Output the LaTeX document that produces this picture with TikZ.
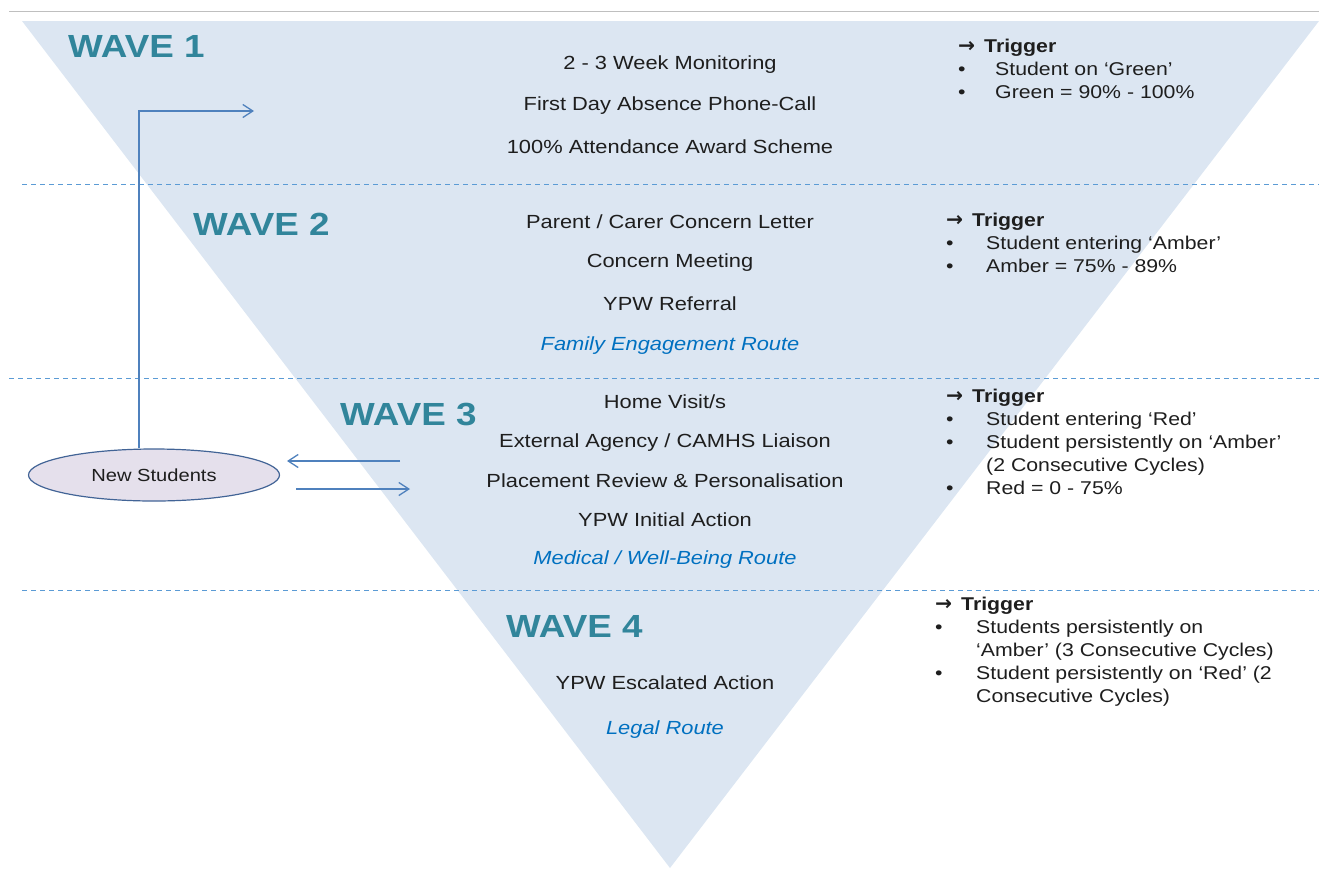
\documentclass[tikz,border=0pt]{standalone}
\usepackage{fontspec}
\setmainfont[FakeStretch=1.15]{Liberation Sans}
\newfontfamily\arrowfont{DejaVu Sans}
\usetikzlibrary{shapes.geometric,arrows.meta}
\definecolor{tri}{RGB}{220,230,242}
\definecolor{dashc}{RGB}{91,155,213}
\definecolor{wavec}{RGB}{49,133,155}
\definecolor{routec}{RGB}{0,112,192}
\definecolor{linec}{RGB}{79,129,189}
\definecolor{ellfill}{RGB}{229,224,236}
\definecolor{ellline}{RGB}{66,100,150}
\definecolor{txt}{RGB}{30,30,30}
\tikzset{
  wave/.style={font=\fontsize{32}{36}\selectfont\bfseries, text=wavec, inner sep=0pt, anchor=west},
  item/.style={font=\fontsize{19}{23}\selectfont, text=txt, inner sep=0pt},
  route/.style={font=\fontsize{19}{23}\selectfont\itshape, text=routec, inner sep=0pt},
  trig/.style={font=\fontsize{18.5}{23.2}\selectfont, text=txt, inner sep=0pt, anchor=north west, align=left},
  sep/.style={dashc, dashed, dash pattern=on 5pt off 4pt, line width=1pt},
  conn/.style={linec, line width=1.3pt, -{Straight Barb[length=10pt,width=13pt]}},
}
\newcommand{\bul}[1]{\makebox[#1][l]{•}}
\newcommand{\trighead}{\raisebox{-0.5pt}{\resizebox{17pt}{11pt}{\arrowfont\bfseries →}}\hspace{9pt}\textbf{Trigger}}
\begin{document}
\begin{tikzpicture}[x=1pt,y=-1pt]
\useasboundingbox (0,0) rectangle (1319,868);
% top rule
\draw[gray!50, line width=1pt] (9,11) -- (1319,11);
% triangle
\fill[tri] (22,21) -- (1319,21) -- (670,868) -- cycle;
% separators
\draw[sep] (22,184) -- (1319,184);
\draw[sep] (9,378) -- (1319,378);
\draw[sep] (22,590) -- (1319,590);
% wave labels
\node[wave] (w1) at (68,46) {WAVE 1};
\node[wave] (w2) at (193,224) {WAVE 2};
\node[wave] (w3) at (340,414) {WAVE 3};
\node[wave] (w4) at (506,626) {WAVE 4};
% wave 1 items
\node[item] (a1) at (670,64.5) {2 - 3 Week Monitoring};
\node[item] (a2) at (670,105.5) {First Day Absence Phone-Call};
\node[item] (a3) at (670,146.5) {100\% Attendance Award Scheme};
% wave 2
\node[item] (b1) at (670,221.5) {Parent / Carer Concern Letter};
\node[item] (b2) at (670,262.5) {Concern Meeting};
\node[item] (b3) at (670,303.5) {YPW Referral};
\node[route] (b4) at (670,345.5) {Family Engagement Route};
% wave 3
\node[item] (c1) at (665,401.5) {Home Visit/s};
\node[item] (c2) at (665,442.5) {External Agency / CAMHS Liaison};
\node[item] (c3) at (665,480.5) {Placement Review \& Personalisation};
\node[item] (c4) at (665,519.5) {YPW Initial Action};
\node[route] (c5) at (665,559.5) {Medical / Well-Being Route};
% wave 4
\node[item] (d1) at (665,682.5) {YPW Escalated Action};
\node[route] (d2) at (665,729.5) {Legal Route};
% triggers
\node[trig] (t1) at (958,38.5) {\trighead\\\bul{37pt}Student on ‘Green’\\\bul{37pt}Green = 90\% - 100\%};
\node[trig] (t2) at (946,212.5) {\trighead\\\bul{40pt}Student entering ‘Amber’\\\bul{40pt}Amber = 75\% - 89\%};
\node[trig] (t3) at (946,388.5) {\trighead\\\bul{40pt}Student entering ‘Red’\\\bul{40pt}Student persistently on ‘Amber’\\\hspace*{40pt}(2 Consecutive Cycles)\\\bul{40pt}Red = 0 - 75\%};
\node[trig] (t4) at (935,596.5) {\trighead\\\bul{41pt}Students persistently on\\\hspace*{41pt}‘Amber’ (3 Consecutive Cycles)\\\bul{41pt}Student persistently on ‘Red’ (2\\\hspace*{41pt}Consecutive Cycles)};
% new students
\node[ellipse, draw=ellline, fill=ellfill, line width=1.2pt, minimum width=251pt, minimum height=52pt, inner sep=0pt, font=\fontsize{17.5}{20}\selectfont, text=txt] (ns) at (154,475) {New Students};
\coordinate (up) at (139,111);
\coordinate (upend) at (254,111);
\coordinate (l1) at (400,461);
\coordinate (l2) at (287,461);
\coordinate (r1) at (296,489);
\coordinate (r2) at (410,489);
\draw[conn] (ns.north -| up) -- (up) -- (upend);
\draw[conn] (l1) -- (l2);
\draw[conn] (r1) -- (r2);
\end{tikzpicture}
\end{document}
